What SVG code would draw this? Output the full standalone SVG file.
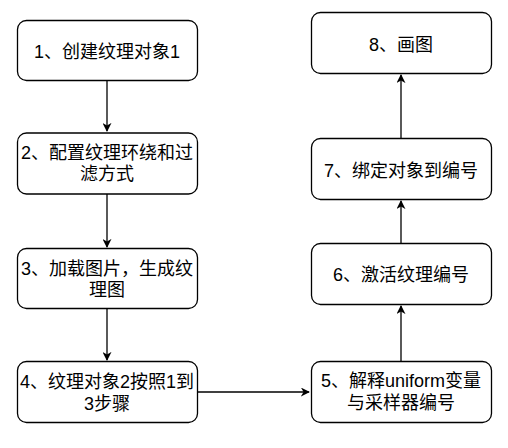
<svg xmlns="http://www.w3.org/2000/svg" width="508" height="448" viewBox="0 0 508 448">
<defs>
<style>
.box{fill:#fff;stroke:#000;stroke-width:1.3}
.t{font-family:"Liberation Sans","Noto Sans CJK SC",sans-serif;font-size:18px;fill:#000;text-anchor:middle;dominant-baseline:central}
.c{fill:none;stroke:#000;stroke-width:1.3}
</style>
<marker id="arr" viewBox="0 0 10 10" refX="9" refY="5" markerWidth="9" markerHeight="9" markerUnits="userSpaceOnUse" orient="auto">
<path d="M0,0 L10,5 L0,10 L3,5 Z" fill="#000"/>
</marker>
</defs>
<rect width="508" height="448" fill="#fff"/>
<g id="connectors">
<path class="c" d="M107,81 V131" marker-end="url(#arr)"/>
<path class="c" d="M107,194 V247" marker-end="url(#arr)"/>
<path class="c" d="M107,309 V360" marker-end="url(#arr)"/>
<path class="c" d="M197,392 H309" marker-end="url(#arr)"/>
<path class="c" d="M401,362 V306" marker-end="url(#arr)"/>
<path class="c" d="M401,244 V201" marker-end="url(#arr)"/>
<path class="c" d="M401,139 V75" marker-end="url(#arr)"/>
</g>
<g id="n1"><rect class="box" x="17.5" y="20.5" width="180" height="60" rx="9"/><text class="t" x="107" y="51.5">1、创建纹理对象1</text></g>
<g id="n2"><rect class="box" x="17.5" y="133" width="180" height="61" rx="9"/><text class="t" x="107" y="152.5">2、配置纹理环绕和过</text><text class="t" x="107" y="174">滤方式</text></g>
<g id="n3"><rect class="box" x="17.5" y="248.5" width="180" height="60" rx="9"/><text class="t" x="107" y="268.5">3、加载图片，生成纹</text><text class="t" x="107" y="290">理图</text></g>
<g id="n4"><rect class="box" x="17.5" y="361.5" width="180" height="61" rx="9"/><text class="t" x="107" y="382">4、纹理对象2按照1到</text><text class="t" x="107" y="404">3步骤</text></g>
<g id="n5"><rect class="box" x="311.5" y="361.5" width="180" height="61" rx="9"/><text class="t" x="401" y="381">5、解释uniform变量</text><text class="t" x="401" y="403">与采样器编号</text></g>
<g id="n6"><rect class="box" x="311.5" y="243.5" width="180" height="61" rx="9"/><text class="t" x="401" y="274.5">6、激活纹理编号</text></g>
<g id="n7"><rect class="box" x="311.5" y="138.5" width="180" height="61" rx="9"/><text class="t" x="401" y="170.5">7、绑定对象到编号</text></g>
<g id="n8"><rect class="box" x="311.5" y="12.5" width="180" height="61" rx="9"/><text class="t" x="401" y="45">8、画图</text></g>
</svg>
